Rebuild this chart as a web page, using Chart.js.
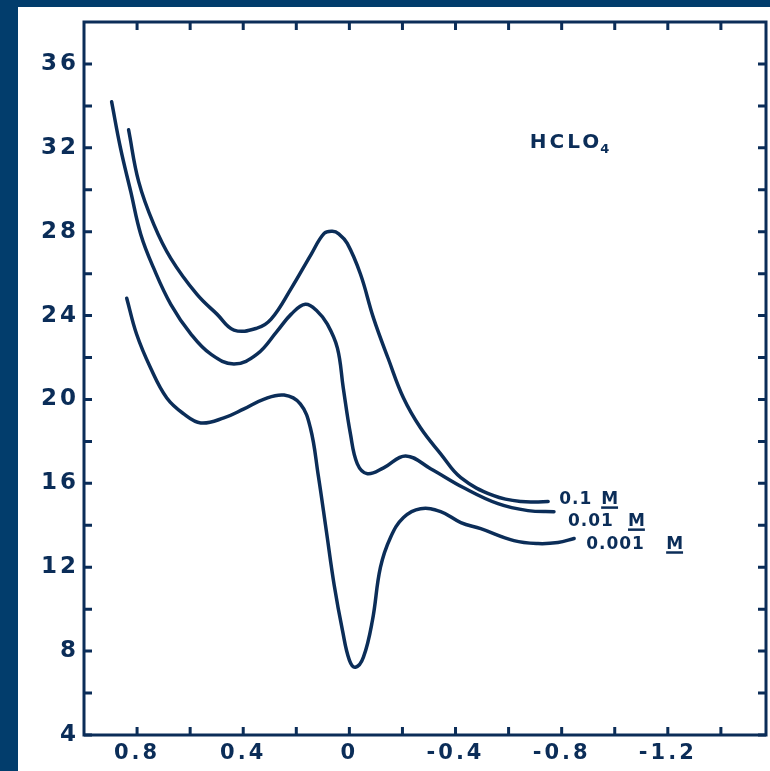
<!DOCTYPE html>
<html><head><meta charset="utf-8">
<script src="https://cdn.jsdelivr.net/npm/chart.js@4.4.1/dist/chart.umd.min.js"></script>
<style>html,body{margin:0;padding:0;background:#fff;overflow:hidden}#wrap{width:770px;height:771px;position:relative}canvas{display:block}</style>
</head><body><div id="wrap"><canvas id="c" width="770" height="771"></canvas></div>
<script>
// ---- data ----
const xMajorTicks = [0.8, 0.4, 0, -0.4, -0.8, -1.2];
const xMajorLabels = ['0.8', '0.4', '0', '-0.4', '-0.8', '-1.2'];
const xMinorTicks = [0.6, 0.2, -0.2, -0.6, -1.0, -1.4];
const yMajorTicks = [36, 32, 28, 24, 20, 16, 12, 8, 4];
const yMajorLabels = ['36', '32', '28', '24', '20', '16', '12', '8', '4'];
const yMinorTicks = [34, 30, 26, 22, 18, 14, 10, 6];
const seriesNumbers = ['0.1', '0.01', '0.001'];
const seriesUnit = 'M';
const electrolyte = 'HCLO';
const electrolyteSub = '4';

const x_01 = [0.832, 0.794, 0.737, 0.673, 0.575, 0.499, 0.435, 0.348, 0.295, 0.219, 0.144, 0.095, 0.064, 0.040, 0.008, -0.042, -0.091, -0.147, -0.204, -0.268, -0.344, -0.420, -0.544, -0.647, -0.749];
const y_01 = [32.86, 30.39, 28.35, 26.73, 25.02, 24.07, 23.31, 23.40, 23.83, 25.30, 26.92, 27.92, 28.02, 27.90, 27.44, 25.97, 23.88, 21.93, 20.07, 18.65, 17.41, 16.27, 15.41, 15.13, 15.13];

const x_001 = [0.896, 0.862, 0.824, 0.786, 0.737, 0.673, 0.597, 0.522, 0.435, 0.348, 0.272, 0.219, 0.166, 0.121, 0.083, 0.045, 0.023, -0.004, -0.030, -0.068, -0.129, -0.212, -0.306, -0.431, -0.560, -0.673, -0.771];
const y_001 = [34.20, 31.96, 29.92, 27.87, 26.25, 24.54, 23.12, 22.16, 21.69, 22.16, 23.26, 24.07, 24.54, 24.21, 23.59, 22.45, 20.55, 18.36, 16.93, 16.46, 16.74, 17.31, 16.70, 15.79, 15.03, 14.70, 14.65];

const x_0001 = [0.839, 0.802, 0.749, 0.688, 0.624, 0.560, 0.473, 0.397, 0.321, 0.246, 0.185, 0.147, 0.117, 0.087, 0.057, 0.026, 0.000, -0.023, -0.053, -0.087, -0.117, -0.155, -0.204, -0.268, -0.344, -0.420, -0.495, -0.620, -0.711, -0.786, -0.847];
const y_0001 = [24.83, 23.12, 21.50, 20.07, 19.31, 18.88, 19.12, 19.55, 20.02, 20.21, 19.79, 18.65, 16.36, 13.75, 11.13, 8.99, 7.57, 7.23, 7.71, 9.47, 11.99, 13.42, 14.37, 14.79, 14.65, 14.13, 13.84, 13.27, 13.13, 13.18, 13.37];

// ---- styles ----
const INK = '#0b2d58';
const FRAME = '#023d6c';
const FONT = '"DejaVu Sans", sans-serif';

const pts = (xs, ys) => xs.map((x, i) => ({x: x, y: ys[i]}));
const allX = xMajorTicks.concat(xMinorTicks).sort((a, b) => b - a);
const allY = yMajorTicks.concat(yMinorTicks).sort((a, b) => b - a);
const near = (a, b) => Math.abs(a - b) < 1e-6;

const framePlugin = {
  id: 'frame',
  beforeDraw(chart) {
    const ctx = chart.ctx;
    ctx.save();
    ctx.fillStyle = FRAME;
    ctx.fillRect(0, 0, chart.width, chart.height);
    ctx.fillStyle = '#ffffff';
    ctx.fillRect(18, 7, chart.width - 18, chart.height - 7);
    ctx.restore();
    ctx.letterSpacing = '3px';
  },
  afterDraw(chart) {
    const ctx = chart.ctx;
    const a = chart.chartArea;
    const xs = chart.scales.x, ys = chart.scales.y;
    ctx.save();
    ctx.letterSpacing = '0px';
    ctx.strokeStyle = INK;
    ctx.lineWidth = 3;
    ctx.lineCap = 'square';
    ctx.strokeRect(a.left, a.top, a.right - a.left, a.bottom - a.top);
    ctx.lineCap = 'butt';
    const L = 8;
    allY.forEach(v => {
      const p = ys.getPixelForValue(v);
      ctx.beginPath();
      ctx.moveTo(a.left, p); ctx.lineTo(a.left + L, p);
      ctx.moveTo(a.right, p); ctx.lineTo(a.right - L, p);
      ctx.stroke();
    });
    allX.forEach(v => {
      const p = xs.getPixelForValue(v);
      ctx.beginPath();
      ctx.moveTo(p, a.bottom); ctx.lineTo(p, a.bottom - L);
      ctx.moveTo(p, a.top); ctx.lineTo(p, a.top + L);
      ctx.stroke();
    });
    // series labels at curve ends
    const offs = [[11, 2, 42], [14, 14, 60], [12, 10, 80]];
    ctx.fillStyle = INK;
    ctx.font = 'bold 17px ' + FONT;
    ctx.textBaseline = 'alphabetic';
    ctx.letterSpacing = '1px';
    chart.data.datasets.forEach((ds, i) => {
      const last = ds.data[ds.data.length - 1];
      const px = xs.getPixelForValue(last.x) + offs[i][0];
      const py = ys.getPixelForValue(last.y) + offs[i][1];
      ctx.fillText(seriesNumbers[i], px, py);
      const mx = px + offs[i][2];
      ctx.fillText(seriesUnit, mx, py);
      const w = ctx.measureText(seriesUnit).width - 1;
      ctx.lineWidth = 2.5;
      ctx.beginPath();
      ctx.moveTo(mx, py + 4); ctx.lineTo(mx + w, py + 4);
      ctx.stroke();
    });
    // electrolyte label
    ctx.font = 'bold 20px ' + FONT;
    ctx.letterSpacing = '3px';
    const hx = xs.getPixelForValue(-0.68), hy = ys.getPixelForValue(32.0);
    ctx.fillText(electrolyte, hx, hy);
    const hw = ctx.measureText(electrolyte).width;
    ctx.font = 'bold 13px ' + FONT;
    ctx.fillText(electrolyteSub, hx + hw - 2, hy + 5);
    ctx.restore();
  }
};

new Chart(document.getElementById('c'), {
  type: 'line',
  data: {
    datasets: [
      {label: '0.1 M', data: pts(x_01, y_01)},
      {label: '0.01 M', data: pts(x_001, y_001)},
      {label: '0.001 M', data: pts(x_0001, y_0001)}
    ].map(d => Object.assign(d, {
      borderColor: INK, borderWidth: 3.5, pointRadius: 0, fill: false,
      tension: 0.4, borderCapStyle: 'round', borderJoinStyle: 'round'
    }))
  },
  options: {
    responsive: false,
    devicePixelRatio: 1,
    animation: false,
    events: [],
    layout: {padding: {left: 0, top: 22, right: 4, bottom: 0}},
    plugins: {legend: {display: false}, tooltip: {enabled: false}},
    scales: {
      x: {
        type: 'linear', reverse: true, min: -1.57, max: 1.0,
        afterBuildTicks: s => { s.ticks = allX.map(v => ({value: v})); },
        afterFit: s => { s.height = 36; },
        grid: {display: false, drawTicks: false},
        border: {display: false},
        ticks: {
          autoSkip: false, maxRotation: 0, padding: 6, color: INK,
          font: {family: FONT, size: 21, weight: 'bold'},
          callback: v => { const k = xMajorTicks.findIndex(t => near(t, v)); return k >= 0 ? xMajorLabels[k] : ''; }
        }
      },
      y: {
        type: 'linear', min: 4, max: 38,
        afterBuildTicks: s => { s.ticks = allY.map(v => ({value: v})); },
        afterFit: s => { s.width = 84; },
        grid: {display: false, drawTicks: false},
        border: {display: false},
        ticks: {
          autoSkip: false, padding: 5, color: INK,
          font: {family: FONT, size: 23, weight: 'bold'},
          callback: v => { const k = yMajorTicks.findIndex(t => near(t, v)); return k >= 0 ? yMajorLabels[k] : ''; }
        }
      }
    }
  },
  plugins: [framePlugin]
});
</script></body></html>
